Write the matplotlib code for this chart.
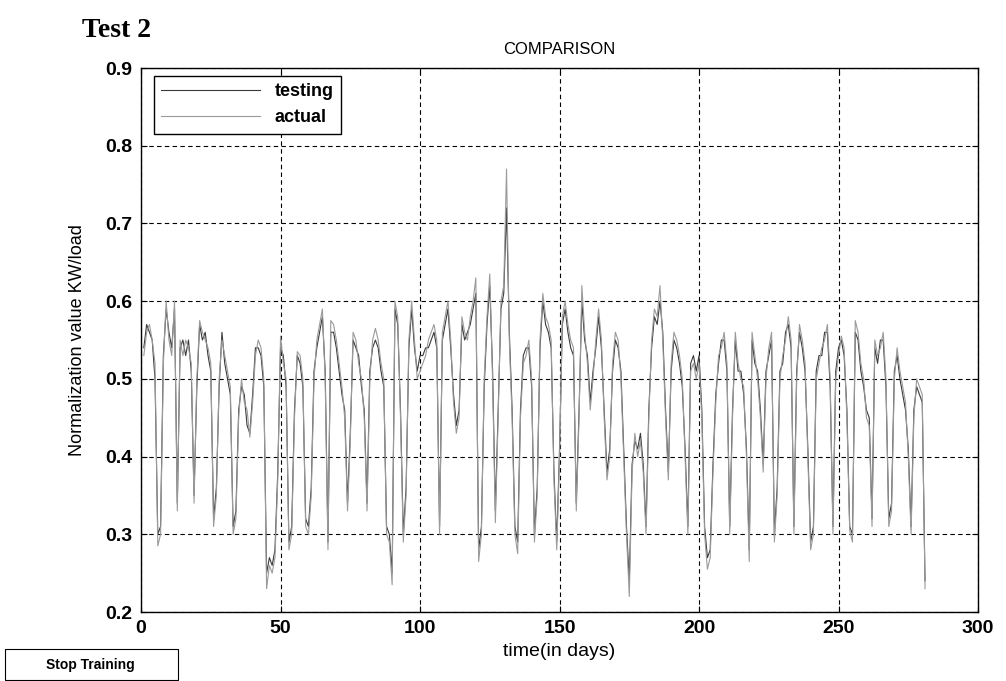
import numpy as np
import matplotlib
matplotlib.use("Agg")
from matplotlib import pyplot as plt
from matplotlib.patches import Rectangle

# values (one per day)
actual = [
    0.53, 0.56, 0.57, 0.55, 0.52, 0.285, 0.30, 0.52, 0.60, 0.55,
    0.53, 0.60, 0.33, 0.55, 0.53, 0.55, 0.54, 0.52, 0.34, 0.50,
    0.575, 0.56, 0.55, 0.54, 0.52, 0.31, 0.35, 0.50, 0.55, 0.53,
    0.51, 0.49, 0.30, 0.32, 0.45, 0.50, 0.47, 0.46, 0.425, 0.47,
    0.53, 0.55, 0.54, 0.50, 0.23, 0.26, 0.25, 0.27, 0.37, 0.555,
    0.52, 0.50, 0.28, 0.30, 0.45, 0.535, 0.53, 0.50, 0.31, 0.30,
    0.35, 0.50, 0.55, 0.57, 0.59, 0.50, 0.28, 0.575, 0.57, 0.55,
    0.52, 0.49, 0.45, 0.33, 0.42, 0.56, 0.55, 0.52, 0.50, 0.45,
    0.33, 0.50, 0.55, 0.565, 0.55, 0.52, 0.50, 0.30, 0.29, 0.235,
    0.60, 0.58, 0.45, 0.29, 0.35, 0.55, 0.60, 0.55, 0.50, 0.51,
    0.52, 0.53, 0.55, 0.56, 0.57, 0.55, 0.30, 0.56, 0.58, 0.60,
    0.55, 0.47, 0.43, 0.45, 0.58, 0.56, 0.55, 0.58, 0.60, 0.63,
    0.265, 0.30, 0.50, 0.58, 0.635, 0.50, 0.315, 0.45, 0.60, 0.62,
    0.77, 0.55, 0.45, 0.30, 0.275, 0.45, 0.52, 0.53, 0.55, 0.50,
    0.29, 0.35, 0.55, 0.61, 0.58, 0.57, 0.55, 0.37, 0.28, 0.40,
    0.58, 0.60, 0.57, 0.55, 0.54, 0.33, 0.45, 0.62, 0.56, 0.52,
    0.46, 0.50, 0.55, 0.59, 0.55, 0.45, 0.37, 0.40, 0.52, 0.56,
    0.55, 0.50, 0.40, 0.30, 0.22, 0.38, 0.43, 0.40, 0.42, 0.38,
    0.30, 0.45, 0.55, 0.59, 0.58, 0.62, 0.55, 0.45, 0.37, 0.52,
    0.56, 0.55, 0.53, 0.50, 0.40, 0.30, 0.51, 0.52, 0.50, 0.52,
    0.45, 0.30, 0.255, 0.27, 0.38, 0.47, 0.53, 0.54, 0.56, 0.52,
    0.30, 0.45, 0.56, 0.52, 0.50, 0.49, 0.40, 0.265, 0.56, 0.53,
    0.50, 0.45, 0.38, 0.50, 0.54, 0.56, 0.29, 0.35, 0.50, 0.53,
    0.55, 0.58, 0.55, 0.30, 0.50, 0.57, 0.55, 0.52, 0.40, 0.28,
    0.30, 0.50, 0.52, 0.54, 0.55, 0.57, 0.50, 0.30, 0.50, 0.53,
    0.555, 0.54, 0.45, 0.305, 0.29, 0.575, 0.56, 0.52, 0.50, 0.45,
    0.44, 0.31, 0.55, 0.53, 0.54, 0.56, 0.50, 0.31, 0.33, 0.50,
    0.54, 0.51, 0.49, 0.47, 0.40, 0.30, 0.45, 0.50, 0.49, 0.48,
    0.23,
]

testing = [
    0.54, 0.57, 0.56, 0.55, 0.50, 0.30, 0.31, 0.53, 0.59, 0.56,
    0.54, 0.59, 0.34, 0.54, 0.55, 0.53, 0.55, 0.51, 0.35, 0.49,
    0.57, 0.55, 0.56, 0.53, 0.51, 0.32, 0.36, 0.49, 0.56, 0.52,
    0.50, 0.48, 0.31, 0.33, 0.46, 0.49, 0.48, 0.44, 0.43, 0.48,
    0.54, 0.54, 0.53, 0.49, 0.25, 0.27, 0.26, 0.28, 0.38, 0.54,
    0.53, 0.49, 0.29, 0.31, 0.46, 0.53, 0.52, 0.49, 0.32, 0.31,
    0.36, 0.51, 0.54, 0.56, 0.58, 0.51, 0.29, 0.56, 0.56, 0.54,
    0.51, 0.48, 0.46, 0.34, 0.43, 0.55, 0.54, 0.53, 0.49, 0.46,
    0.34, 0.51, 0.54, 0.55, 0.54, 0.51, 0.49, 0.31, 0.30, 0.25,
    0.59, 0.57, 0.46, 0.30, 0.36, 0.54, 0.59, 0.54, 0.51, 0.53,
    0.53, 0.54, 0.54, 0.55, 0.56, 0.54, 0.31, 0.55, 0.57, 0.59,
    0.54, 0.48, 0.44, 0.46, 0.57, 0.55, 0.56, 0.57, 0.59, 0.61,
    0.28, 0.31, 0.49, 0.57, 0.62, 0.51, 0.33, 0.46, 0.59, 0.61,
    0.72, 0.56, 0.46, 0.31, 0.29, 0.46, 0.53, 0.54, 0.54, 0.49,
    0.30, 0.36, 0.54, 0.60, 0.57, 0.56, 0.54, 0.38, 0.29, 0.41,
    0.57, 0.59, 0.56, 0.54, 0.53, 0.34, 0.46, 0.60, 0.55, 0.53,
    0.47, 0.51, 0.54, 0.58, 0.54, 0.46, 0.38, 0.41, 0.51, 0.55,
    0.54, 0.51, 0.41, 0.31, 0.24, 0.39, 0.42, 0.41, 0.43, 0.39,
    0.31, 0.46, 0.54, 0.58, 0.57, 0.60, 0.56, 0.46, 0.38, 0.51,
    0.55, 0.54, 0.52, 0.49, 0.41, 0.31, 0.52, 0.53, 0.51, 0.53,
    0.46, 0.31, 0.27, 0.28, 0.39, 0.48, 0.52, 0.55, 0.55, 0.51,
    0.31, 0.46, 0.55, 0.51, 0.51, 0.48, 0.41, 0.28, 0.55, 0.52,
    0.51, 0.46, 0.39, 0.51, 0.53, 0.55, 0.30, 0.36, 0.51, 0.52,
    0.56, 0.57, 0.54, 0.31, 0.51, 0.56, 0.54, 0.51, 0.41, 0.29,
    0.31, 0.51, 0.53, 0.53, 0.56, 0.56, 0.49, 0.31, 0.51, 0.54,
    0.55, 0.53, 0.46, 0.31, 0.30, 0.56, 0.55, 0.51, 0.49, 0.46,
    0.45, 0.32, 0.54, 0.52, 0.55, 0.55, 0.49, 0.32, 0.34, 0.51,
    0.53, 0.50, 0.48, 0.46, 0.41, 0.31, 0.46, 0.49, 0.48, 0.47,
    0.24,
]

x_ticks = [0, 50, 100, 150, 200, 250, 300]
y_ticks = [0.2, 0.3, 0.4, 0.5, 0.6, 0.7, 0.8, 0.9]

plt.rcParams['font.family'] = ['Liberation Sans', 'DejaVu Sans']

fig = plt.figure(figsize=(10.06, 6.81), dpi=100)
ax = fig.add_axes([0.1402, 0.1013, 0.832, 0.7988])

ax.plot(np.arange(1, len(testing) + 1), testing, color='#3a3a3a', lw=0.8, label='testing')
ax.plot(np.arange(1, len(actual) + 1), actual, color='#9a9a9a', lw=0.8, label='actual')

ax.set_xlim(0, 300)
ax.set_ylim(0.2, 0.9)
ax.set_xticks(x_ticks)
ax.set_yticks(y_ticks)
ax.set_xticklabels([str(v) for v in x_ticks], fontsize=14, fontweight='bold')
ax.set_yticklabels(['%.1f' % v for v in y_ticks], fontsize=14, fontweight='bold')
ax.tick_params(direction='in', length=4, top=True, right=True, pad=6)
ax.grid(True, color='black', linestyle=(0, (4, 3)), linewidth=0.8)
for s in ax.spines.values():
    s.set_linewidth(1.0)

ax.set_title('COMPARISON', fontsize=12, pad=10)
ax.set_xlabel('time(in days)', fontsize=14, labelpad=4)
ax.set_ylabel('Normalization value KW/load', fontsize=13, labelpad=14)

leg = ax.legend(loc='upper left', bbox_to_anchor=(0.015, 0.985), fancybox=False,
                edgecolor='black', framealpha=1, handlelength=5.5,
                prop={'weight': 'bold', 'size': 13}, borderaxespad=0)
leg.get_frame().set_linewidth(1.0)

fig.text(0.082, 0.955, 'Test 2', family=['Liberation Serif'], fontsize=20,
         fontweight='bold', ha='left', va='center')

# "Stop Training" button under the axes
fig.patches.append(Rectangle((0.005, 0.002), 0.172, 0.045, transform=fig.transFigure,
                             facecolor='white', edgecolor='black', lw=0.8))
fig.text(0.09, 0.024, 'Stop Training', fontsize=10, fontweight='bold',
         ha='center', va='center')

fig.savefig('out.png', dpi=100)
